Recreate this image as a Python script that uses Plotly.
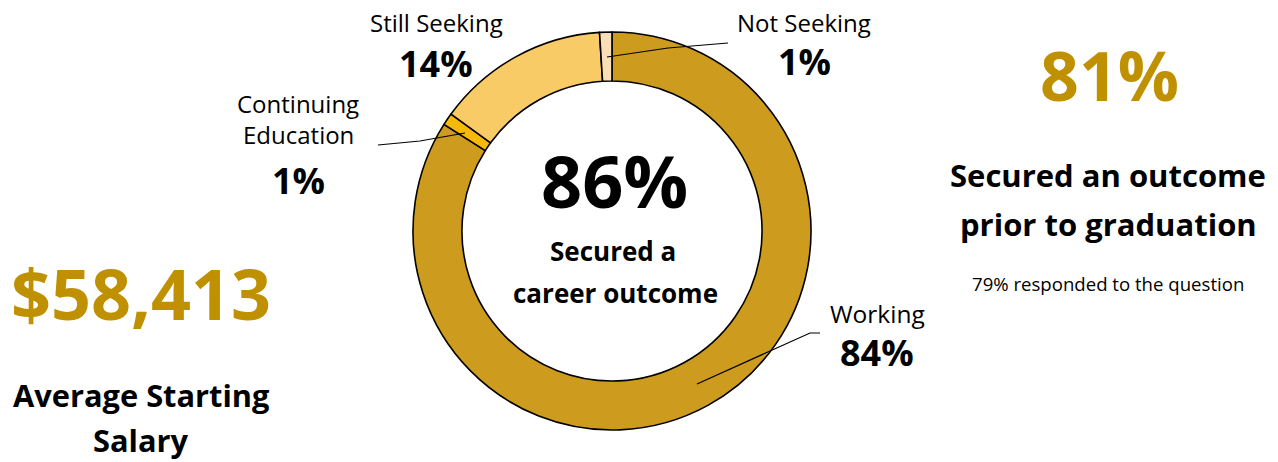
import plotly.graph_objects as go

W, H = 1278, 462

# Data
categories = ["Working", "Continuing Education", "Still Seeking", "Not Seeking"]
values = [84, 1, 14, 1]
slice_colors = ["#CD9B1D", "#F6B90A", "#F9CB66", "#F9DFB5"]

center_value = "86%"
center_caption = ["Secured a", "career outcome"]
prior_value = "81%"
prior_caption = ["Secured an outcome", "prior to graduation"]
prior_note = "79% responded to the question"
salary_value = "$58,413"
salary_caption = ["Average Starting", "Salary"]

GOLD = "#BF9000"
FONT = "Open Sans"


def px(x):
    return x / W


def py(y):
    return 1 - y / H


# pie placement (pixel centre and radius)
cx, cy, R = 612, 231, 199

fig = go.Figure()
fig.add_trace(go.Pie(
    labels=categories,
    values=values,
    sort=False,
    direction="clockwise",
    rotation=0,
    hole=0.754,
    textinfo="none",
    hoverinfo="label+percent",
    marker=dict(colors=slice_colors, line=dict(color="#000000", width=1.6)),
    domain=dict(x=[px(cx - R), px(cx + R)], y=[py(cy + R), py(cy - R)]),
    showlegend=False,
))

ann = []


def add_text(text, x, y, size, color="#000000", bold=False):
    t = f"<b>{text}</b>" if bold else text
    ann.append(dict(text=t, x=px(x), y=py(y), xref="paper", yref="paper",
                    xanchor="center", yanchor="middle", showarrow=False,
                    font=dict(family=FONT, size=size, color=color)))


# slice labels
pct = {c: f"{v}%" for c, v in zip(categories, values)}
add_text("Still Seeking", 436, 22, 24)
add_text(pct["Still Seeking"], 436, 64, 36, bold=True)
add_text("Not Seeking", 804, 22, 24)
add_text(pct["Not Seeking"], 804, 61, 36, bold=True)
add_text("Continuing", 298, 103, 24)
add_text("Education", 298, 134, 24)
add_text(pct["Continuing Education"], 298, 180, 36, bold=True)
add_text("Working", 877, 313, 24.5)
add_text(pct["Working"], 877, 352, 36, bold=True)

# centre
add_text(center_value, 614, 180, 72, bold=True)
add_text(center_caption[0], 613, 251, 26, bold=True)
add_text(center_caption[1], 615, 293, 26, bold=True)

# right block
add_text(prior_value, 1109, 74, 68, color=GOLD, bold=True)
add_text(prior_caption[0], 1108, 175, 31, bold=True)
add_text(prior_caption[1], 1108, 224, 31, bold=True)
add_text(prior_note, 1108, 283, 18.6)

# left block
add_text(salary_value, 141, 293, 70, color=GOLD, bold=True)
add_text(salary_caption[0], 141, 395, 30.8, bold=True)
add_text(salary_caption[1], 141, 440, 30.8, bold=True)

# leader lines
leaders = [
    [(607, 57), (668, 48), (728, 43)],
    [(378, 145), (420, 141), (465, 133)],
    [(697, 384), (810, 333), (820, 333)],
]
shapes = []
for pts in leaders:
    path = "M " + " L ".join(f"{px(x)},{py(y)}" for x, y in pts)
    shapes.append(dict(type="path", path=path, xref="paper", yref="paper",
                       line=dict(color="#000000", width=1.2)))

fig.update_layout(
    width=W, height=H,
    margin=dict(l=0, r=0, t=0, b=0),
    paper_bgcolor="white",
    plot_bgcolor="white",
    annotations=ann,
    shapes=shapes,
    font=dict(family=FONT),
)

# remove the page's default body margin so the figure fills the window
fig.write_html("out.html",
               config={"displayModeBar": False},
               post_script="document.body.style.margin='0px';")
